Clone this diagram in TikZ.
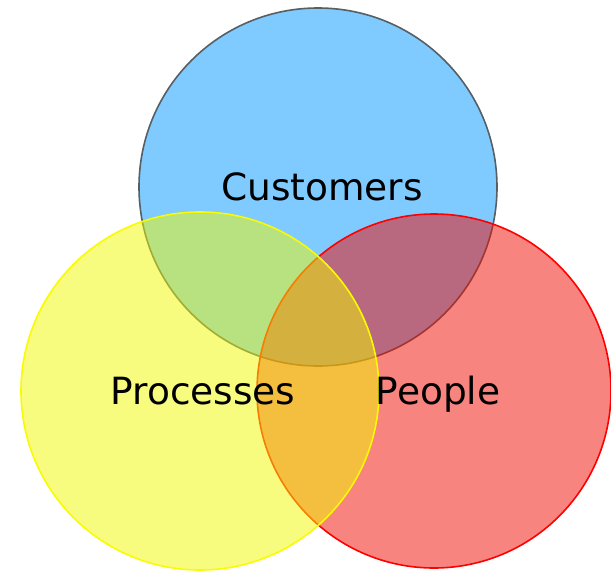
\documentclass[tikz,border=0pt]{standalone}
\usepackage{fontspec}
\setmainfont{DejaVu Sans}
\begin{document}
\begin{tikzpicture}[x=1pt,y=-1pt,
  setbox/.style={line width=1.6pt, fill opacity=0.5},
  setlabel/.style={anchor=base, inner sep=0pt, font=\fontsize{37.5}{40}\selectfont, text=black}]
\definecolor{custblue}{RGB}{0,150,255}
\definecolor{custedge}{RGB}{85,95,100}
\definecolor{peoplered}{RGB}{242,10,0}
\definecolor{procyellow}{RGB}{240,250,0}
\definecolor{procedge}{RGB}{250,250,0}
\useasboundingbox (0,0) rectangle (611,573);
% three overlapping sets, yellow drawn last
\draw[setbox, draw=custedge, fill=custblue] (318,187) circle (179);
\draw[setbox, draw=red, fill=peoplered] (434,391) circle (177);
\draw[setbox, draw=procedge, fill=procyellow] (200,391) circle (179);
\node[setlabel] (customers) at (322,200) {Customers};
\node[setlabel] (processes) at (203,404) {Processes};
\node[setlabel] (people) at (438,404) {People};
\end{tikzpicture}
\end{document}
